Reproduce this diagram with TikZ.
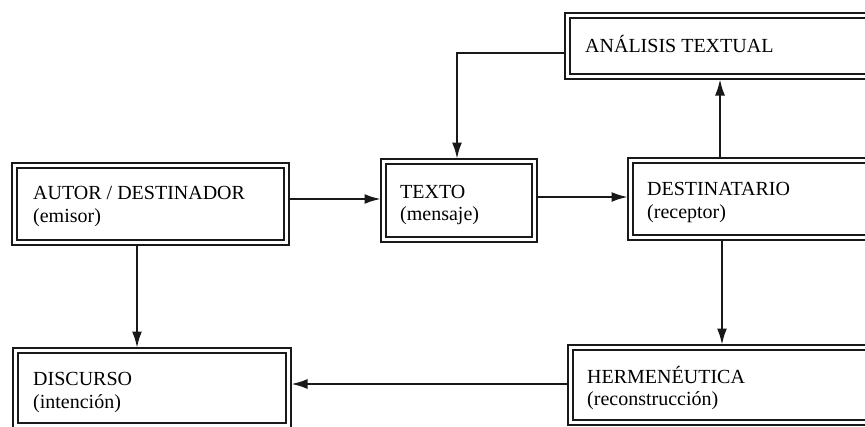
\documentclass[tikz,border=0pt]{standalone}
\usepackage{fontspec}
\setmainfont{Liberation Serif}
\usetikzlibrary{arrows.meta}

\tikzset{
  frame/.style={draw=black!90, line width=1.8pt, double=white, double distance=3.2pt,
    rectangle, inner sep=0pt, outer sep=0pt, anchor=north west},
  conn/.style={draw=black!90, line width=1.8pt, shorten <=2.5pt},
  arr/.style={conn, -{Latex[length=16pt,width=10pt]}, shorten >=3pt},
  lbl/.style={anchor=base west, inner sep=0pt, font=\fontsize{20}{23}\selectfont, text=black}
}

\begin{document}
\begin{tikzpicture}[x=1pt, y=-1pt]
  \useasboundingbox (0,0) rectangle (865,426);
  \clip (0,0) rectangle (865,426);
  \fill[white] (0,0) rectangle (865,426);

  % double-framed boxes
  \node[frame, minimum width=272pt, minimum height=77pt] (autor)    at (14.5,165.5) {};
  \node[frame, minimum width=151pt, minimum height=78pt] (texto)    at (383.5,161.5) {};
  \node[frame, minimum width=320pt, minimum height=61pt] (analisis) at (567.5,15.5) {};
  \node[frame, minimum width=257pt, minimum height=77pt] (dest)     at (630.5,160.5) {};
  \node[frame, minimum width=273pt, minimum height=75pt] (discurso) at (15.5,350.5) {};
  \node[frame, minimum width=320pt, minimum height=75pt] (herm)     at (570.5,347.5) {};

  % labels
  \node[lbl] (autor-a) at (33,199) {AUTOR / DESTINADOR};
  \node[lbl] (autor-b) at (33,222) {(emisor)};
  \node[lbl] (texto-a) at (400,198) {TEXTO};
  \node[lbl] (texto-b) at (400,220) {(mensaje)};
  \node[lbl] (analisis-a) at (585,52) {ANÁLISIS TEXTUAL};
  \node[lbl] (dest-a) at (647,195) {DESTINATARIO};
  \node[lbl] (dest-b) at (647,218) {(receptor)};
  \node[lbl] (discurso-a) at (33,385) {DISCURSO};
  \node[lbl] (discurso-b) at (33,408) {(intención)};
  \node[lbl] (herm-a) at (587,383) {HERMENÉUTICA};
  \node[lbl] (herm-b) at (587,405) {(reconstrucción)};

  % connectors
  \draw[arr] ([yshift=5pt]autor.east) -- ([yshift=5pt]autor.east -| texto.west);
  \draw[arr] ([yshift=3.5pt]texto.east) -- ([yshift=3.5pt]texto.east -| dest.west);
  \draw[arr] ([xshift=-13.5pt]autor.south) -- ([xshift=-13.5pt]autor.south |- discurso.north);
  \draw[arr] ([xshift=89.5pt]dest.north west) -- ([xshift=89.5pt]dest.north west |- analisis.south);
  \draw[arr] ([xshift=91.5pt]dest.south west) -- ([xshift=91.5pt]dest.south west |- herm.north);
  \draw[arr] ([yshift=1pt]herm.west) -- ([yshift=1pt]herm.west -| discurso.east);
  \draw[arr] ([yshift=-7pt]analisis.west) -| ([xshift=-2pt]texto.north);
\end{tikzpicture}
\end{document}
